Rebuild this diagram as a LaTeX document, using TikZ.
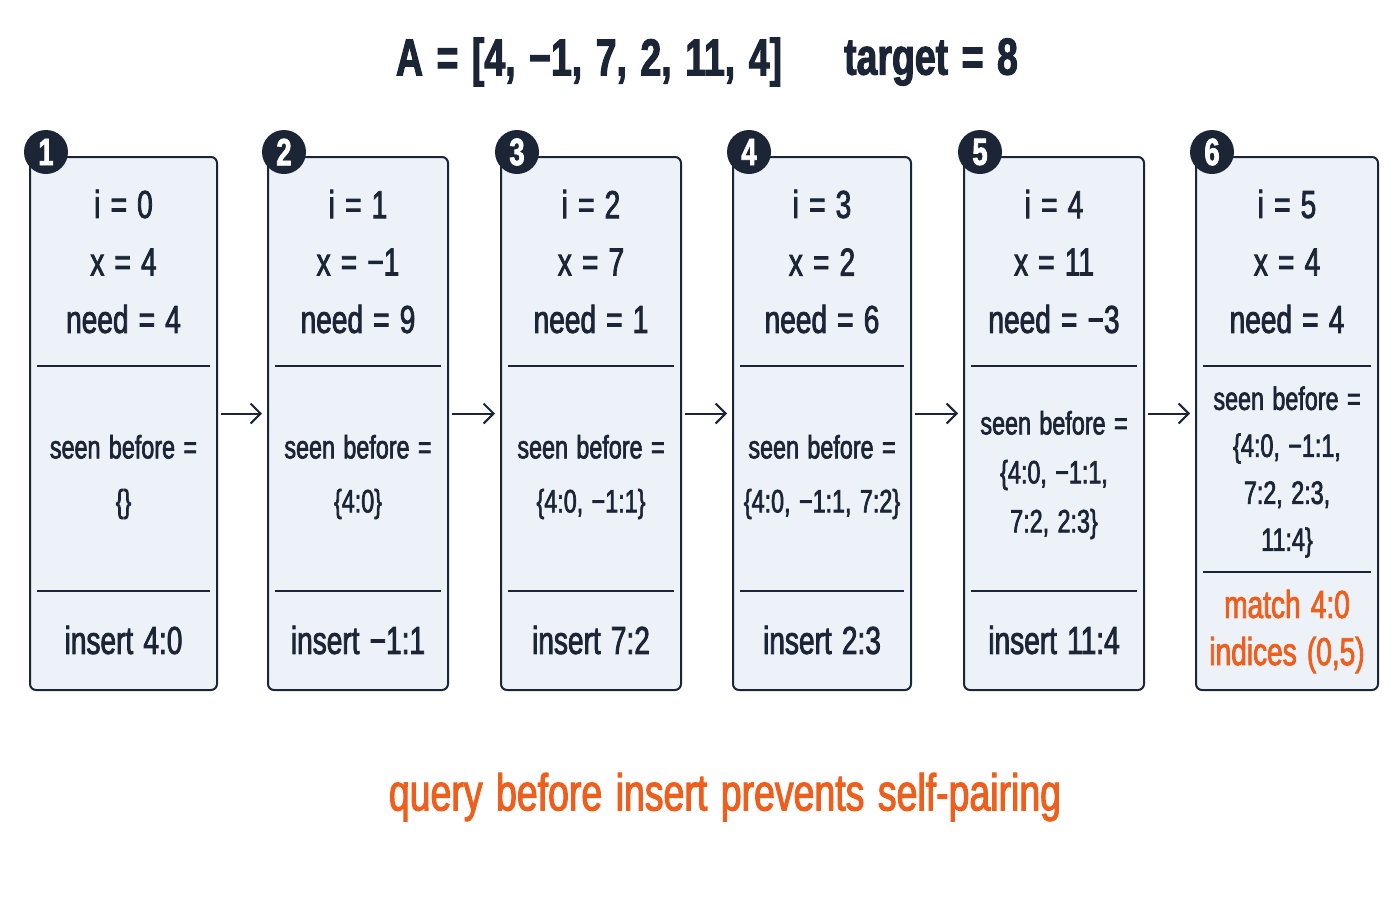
\documentclass[tikz,border=0pt]{standalone}
\usepackage{fontspec}
\setmainfont{Liberation Sans}[FakeStretch=0.72, FakeBold=2, WordSpace=1.3]
\usetikzlibrary{calc}
\usetikzlibrary{fit}
\usetikzlibrary{arrows.meta}

\definecolor{ink}{HTML}{1B2536}
\definecolor{boxfill}{HTML}{EDF1F8}
\definecolor{accent}{HTML}{EE5E1C}

\tikzset{
  frame/.style = {draw = ink, line width = 1pt, fill = boxfill,
    rounded corners = 3pt, inner sep = 0pt},
  badge/.style = {circle, fill = ink, text = white, minimum size = 22pt,
    inner sep = 0pt, font = \fontsize{19}{19}\selectfont\bfseries},
  val/.style = {text = ink, inner sep = 0pt, align = center,
    font = \fontsize{19.5}{24}\selectfont},
  seen/.style = {val, font = \fontsize{16.2}{#1}\selectfont},
  hit/.style = {val, text = accent},
  step arrow/.style = {draw = ink, line width = 1pt,
    -{Straight Barb[length = 5pt, width = 10pt]}},
  divider/.style = {draw = ink, line width = 0.8pt}
}

\begin{document}
\begin{tikzpicture}[x = 0.5pt, y = -0.5pt]
  \useasboundingbox (0, 0) rectangle (1400, 900);

  \node[val, font = \fontsize{26}{26}\selectfont\bfseries] (array) at (589, 62)
  {A = [4, −1, 7, 2, 11, 4]};
  \node[val, font = \fontsize{26}{26}\selectfont\bfseries] (target) at (931, 62)
  {target = 8};

  \foreach \n/\l/\r in {1/30/217, 2/268/448, 3/501/681, 4/733/911, 5/964/1144,
    6/1196/1378} {
    \node[frame, fit = {(\l, 157) (\r, 690)}] (box\n) {};
    \draw[divider] ($(box\n.north west) + (8, 210)$) --
    ($(box\n.north east) + (-8, 210)$);
    \node[badge] (badge\n) at ($(box\n.north west) + (17, -4)$) {\n};
  }

  \foreach \n/\i/\x/\need in {1/0/4/4, 2/1/−1/9, 3/2/7/1, 4/3/2/6, 5/4/11/−3,
    6/5/4/4} {
    \node[val] (i\n) at ($(box\n.north) + (0, 48)$) {i = \i};
    \node[val] (x\n) at ($(box\n.north) + (0, 106)$) {x = \x};
    \node[val] (need\n) at ($(box\n.north) + (0, 163)$) {need = \need};
  }

  % lower dividers
  \foreach \n in {1, 2, 3, 4, 5}
  \draw[divider] ($(box\n.north west) + (8, 435)$) --
  ($(box\n.north east) + (-8, 435)$);
  \draw[divider] ($(box6.north west) + (8, 416)$) --
  ($(box6.north east) + (-8, 416)$);

  \node[seen = 27] (seen1) at ($(box1.north) + (0, 321)$) {seen before =\\\{\}};
  \node[seen = 27] (seen2) at ($(box2.north) + (0, 321)$) {seen before =\\\{4:0\}};
  \node[seen = 27] (seen3) at ($(box3.north) + (0, 321)$)
  {seen before =\\\{4:0, −1:1\}};
  \node[seen = 27] (seen4) at ($(box4.north) + (0, 321)$)
  {seen before =\\\{4:0, −1:1, 7:2\}};
  \node[seen = 24.5] (seen5) at ($(box5.north) + (0, 319)$)
  {seen before =\\\{4:0, −1:1,\\7:2, 2:3\}};
  \node[seen = 23.5] (seen6) at ($(box6.north) + (0, 316)$)
  {seen before =\\\{4:0, −1:1,\\7:2, 2:3,\\11:4\}};

  \node[val] (ins1) at ($(box1.north) + (0, 484)$) {insert 4:0};
  \node[val] (ins2) at ($(box2.north) + (0, 484)$) {insert −1:1};
  \node[val] (ins3) at ($(box3.north) + (0, 484)$) {insert 7:2};
  \node[val] (ins4) at ($(box4.north) + (0, 484)$) {insert 2:3};
  \node[val] (ins5) at ($(box5.north) + (0, 484)$) {insert 11:4};
  \node[hit] (match) at ($(box6.north) + (0, 448)$) {match 4:0};
  \node[hit] (pair) at ($(box6.north) + (0, 499)$) {indices (0,5)};

  \foreach \a/\b in {1/2, 2/3, 3/4, 4/5, 5/6}
  \draw[step arrow] ($(box\a.east) + (3, -10)$) -- ($(box\b.west) + (-5, -10)$);

  \node[val, text = accent, font = \fontsize{26}{26}\selectfont] (note)
  at (725, 797) {query before insert prevents self-pairing};
\end{tikzpicture}
\end{document}
